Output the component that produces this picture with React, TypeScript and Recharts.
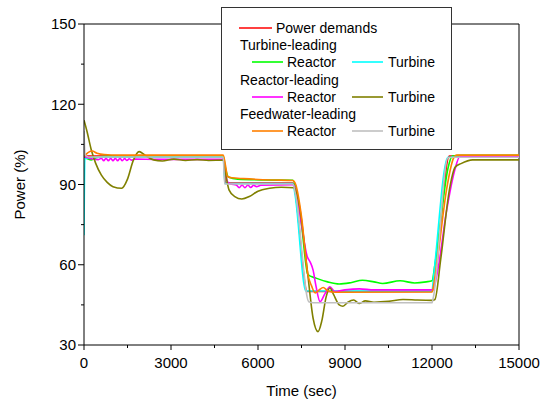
import React from "react";
import {
  LineChart,
  Line,
  XAxis,
  YAxis,
  Legend,
  ReferenceLine,
} from "recharts";

type Pt = [number, number];

// time (sec), power (%)
const powerDemand: Pt[] = [
  [0, 100.6], [4800, 100.6], [4880, 90.5], [7200, 90.5], [7700, 50],
  [12000, 50], [12600, 100.6], [15000, 100.6],
];

const turbineLeadReactor: Pt[] = [
  [0, 100.2], [120, 99.6], [250, 99.2], [450, 100.1], [800, 100.5], [4800, 100.5],
  [4880, 96], [4980, 92.8], [5300, 92], [6200, 91.7], [7200, 91.6], [7300, 89],
  [7500, 75], [7720, 56.3], [8000, 55], [8400, 53.6], [8800, 52.8], [9200, 53.3],
  [9600, 54.2], [10000, 53.6], [10300, 53], [10900, 54], [11400, 53.2], [11800, 53.6],
  [12000, 54], [12100, 60], [12300, 77], [12550, 96], [12700, 100.6], [13000, 100.9],
  [15000, 100.9],
];

const turbineLeadTurbine: Pt[] = [
  [0, 71], [30, 99.6], [300, 100.2], [4800, 100.2], [4860, 90.4], [7200, 90.4],
  [7280, 86], [7650, 50.2], [12000, 50.2], [12050, 55], [12550, 100.2], [15000, 100.4],
];

const reactorLeadReactor: Pt[] = [
  [0, 100.5], [150, 100], [300, 99.5], [500, 99.3], [600, 99.8], [680, 98.9],
  [760, 99.8], [840, 98.9], [920, 99.8], [1000, 98.9], [1080, 99.8], [1160, 98.9],
  [1240, 99.8], [1320, 98.9], [1400, 99.7], [1480, 99], [1560, 99.6], [1640, 99.1],
  [1750, 99.5], [2500, 99.4], [4800, 99.4], [4870, 95], [4950, 91], [5050, 90.2],
  [5250, 89.8], [5350, 88.8], [5450, 89.8], [5550, 88.8], [5650, 89.8], [5750, 88.9],
  [5850, 89.7], [5950, 89.2], [6100, 89.7], [7200, 89.9], [7300, 88], [7500, 75],
  [7700, 63], [7800, 61], [7900, 58], [8000, 52], [8140, 46.2], [8300, 49],
  [8480, 51.8], [8650, 50], [9000, 50.6], [9500, 51], [10000, 50.6], [12000, 50.6],
  [12050, 51], [12200, 58], [12500, 80], [12800, 96], [12950, 100.3], [13200, 100.5],
  [15000, 100.5],
];

const reactorLeadTurbine: Pt[] = [
  [0, 114], [100, 110], [250, 103], [400, 98], [600, 93.5], [800, 90.8],
  [1000, 89.2], [1300, 88.6], [1500, 92], [1700, 99], [1900, 102.3], [2100, 101],
  [2400, 99.2], [2700, 98.8], [3100, 99.5], [3500, 99], [3900, 99.3], [4300, 99],
  [4800, 99.1], [4900, 93], [5000, 88], [5200, 85.5], [5440, 84.6], [5700, 85.5],
  [6000, 87.5], [6400, 88.6], [6800, 89], [7250, 88.8], [7350, 86], [7450, 80.5],
  [7700, 58], [7900, 40], [8070, 35], [8200, 39], [8350, 48], [8480, 51.3],
  [8600, 49], [8800, 45], [8930, 44.5], [9100, 46], [9300, 46.8], [9500, 45.5],
  [9700, 46.5], [10000, 46], [10500, 46.3], [11000, 47], [11500, 46.8], [12000, 46.7],
  [12100, 47], [12300, 62], [12600, 88], [12800, 96.5], [13000, 97.8], [13400, 99.2],
  [15000, 99.2],
];

const feedLeadReactor: Pt[] = [
  [0, 100.5], [150, 102], [280, 102.5], [450, 101.7], [700, 101.2], [1200, 101],
  [4800, 101], [4880, 97], [4950, 93], [5100, 92.5], [5500, 92.2], [6500, 91.7],
  [7200, 91.5], [7300, 90], [7500, 78], [7720, 56.3], [7850, 52], [7970, 49.5],
  [8100, 50.5], [8250, 51.5], [8400, 50.3], [8700, 49.7], [12000, 49.8], [12050, 52],
  [12200, 63], [12500, 88], [12750, 100], [12850, 101], [15000, 101],
];

const feedLeadTurbine: Pt[] = [
  [0, 110], [40, 101], [150, 100.3], [4800, 100.3], [4850, 90.2], [7200, 90.2],
  [7300, 86], [7750, 46.2], [7900, 45.8], [12000, 45.8], [12050, 48], [12550, 100],
  [12700, 100.2], [15000, 100.2],
];

const xTicks = [0, 1500, 3000, 4500, 6000, 7500, 9000, 10500, 12000, 13500, 15000];
const yTicks = [30, 45, 60, 75, 90, 105, 120, 135, 150];

const series = [
  { name: "Power demands", pts: powerDemand, color: "#ff0000" },
  { name: "Turbine-leading Reactor", pts: turbineLeadReactor, color: "#00ff00" },
  { name: "Turbine-leading Turbine", pts: turbineLeadTurbine, color: "#00ffff" },
  { name: "Reactor-leading Reactor", pts: reactorLeadReactor, color: "#ff00ff" },
  { name: "Reactor-leading Turbine", pts: reactorLeadTurbine, color: "#808000" },
  { name: "Feedwater-leading Reactor", pts: feedLeadReactor, color: "#ff8000" },
  { name: "Feedwater-leading Turbine", pts: feedLeadTurbine, color: "#c0c0c0" },
];

const FONT = "'Liberation Sans', Arial, sans-serif";

const XTick = (props: any) => {
  const { x, y, payload } = props;
  const major = payload.value % 3000 === 0;
  return (
    <g>
      <line x1={x} x2={x} y1={y} y2={y + (major ? 5 : 3)} stroke="#000" />
      {major && (
        <text x={x} y={y + 23} textAnchor="middle" fontSize={15} fontFamily={FONT} fill="#000">
          {payload.value}
        </text>
      )}
    </g>
  );
};

const YTick = (props: any) => {
  const { x, y, payload } = props;
  const major = payload.value % 30 === 0;
  return (
    <g>
      <line x1={x - (major ? 6 : 3)} x2={x} y1={y} y2={y} stroke="#000" />
      {major && (
        <text x={x - 8} y={y + 5.4} textAnchor="end" fontSize={15} fontFamily={FONT} fill="#000">
          {payload.value}
        </text>
      )}
    </g>
  );
};

const LegendBox = () => {
  const c = (i: number) => series[i].color;
  const txt = (x: number, cy: number, s: string) => (
    <text x={x} y={cy + 5} fontSize={14} fontFamily={FONT} fill="#000">{s}</text>
  );
  const seg = (x1: number, x2: number, cy: number, color: string) => (
    <line x1={x1} x2={x2} y1={cy} y2={cy} stroke={color} strokeWidth={1.6} />
  );
  return (
    <svg width={231} height={143} style={{ display: "block" }}>
      <rect x={0.5} y={0.5} width={230} height={142} fill="#fff" stroke="#333" />
      {seg(18, 51, 21, c(0))}
      {txt(55, 21, "Power demands")}
      {txt(19, 38, "Turbine-leading")}
      {seg(31, 62, 55, c(1))}
      {txt(66, 55, "Reactor")}
      {seg(131, 162, 55, c(2))}
      {txt(167, 55, "Turbine")}
      {txt(19, 72.5, "Reactor-leading")}
      {seg(31, 62, 90, c(3))}
      {txt(66, 90, "Reactor")}
      {seg(131, 162, 90, c(4))}
      {txt(167, 90, "Turbine")}
      {txt(19, 107, "Feedwater-leading")}
      {seg(31, 62, 124, c(5))}
      {txt(66, 124, "Reactor")}
      {seg(131, 162, 124, c(6))}
      {txt(167, 124, "Turbine")}
    </svg>
  );
};

export default function App() {
  return (
    <div style={{ position: "absolute", left: 0, top: 0, fontFamily: FONT, background: "#fff" }}>
      <LineChart width={550} height={403} margin={{ top: 24, right: 31, left: 0, bottom: 0 }}>
        <XAxis
          type="number"
          dataKey="t"
          domain={[0, 15000]}
          ticks={xTicks}
          interval={0}
          tickLine={false}
          tickSize={0}
          tickMargin={0}
          tick={<XTick />}
          height={58}
          axisLine={{ stroke: "#000" }}
          allowDataOverflow
          label={{
            value: "Time (sec)",
            position: "insideBottom",
            offset: 7,
            fontSize: 15,
            fontFamily: FONT,
            fill: "#000",
          }}
        />
        <YAxis
          type="number"
          domain={[30, 150]}
          ticks={yTicks}
          interval={0}
          tickLine={false}
          tickSize={0}
          tickMargin={0}
          tick={<YTick />}
          width={84}
          axisLine={{ stroke: "#000" }}
          allowDataOverflow
          label={{
            value: "Power (%)",
            angle: -90,
            position: "insideLeft",
            offset: 20,
            fontSize: 15,
            fontFamily: FONT,
            fill: "#000",
            style: { textAnchor: "middle" },
          }}
        />
        <ReferenceLine y={150} stroke="#000" />
        <ReferenceLine x={15000} stroke="#000" />
        {series.map((s) => (
          <Line
            key={s.name}
            name={s.name}
            data={s.pts.map(([t, v]) => ({ t, v }))}
            dataKey="v"
            type="monotone"
            stroke={s.color}
            strokeWidth={1.6}
            dot={false}
            activeDot={false}
            isAnimationActive={false}
          />
        ))}
        <Legend
          layout="horizontal"
          align="center"
          verticalAlign="middle"
          content={<LegendBox />}
          wrapperStyle={{ left: 221, top: 7, width: 231, height: 143 }}
        />
      </LineChart>
    </div>
  );
}
